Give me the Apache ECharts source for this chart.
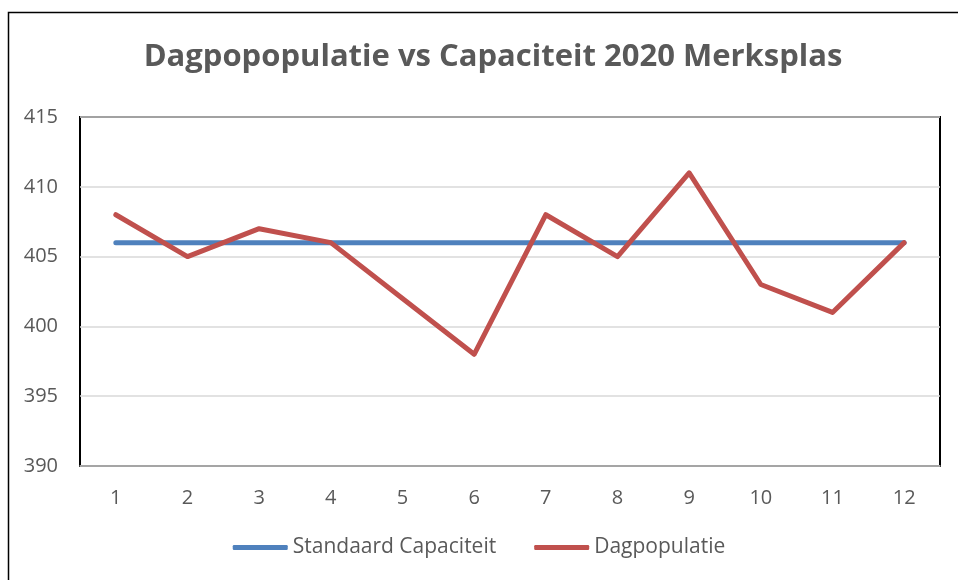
<!DOCTYPE html>
<html><head><meta charset="utf-8">
<script src="https://cdn.jsdelivr.net/npm/echarts@6/dist/echarts.min.js"></script>
<style>html,body{margin:0;padding:0;background:#fff}#c{width:958px;height:580px}</style>
</head><body><div id="c"></div>
<script>
const categories = ['1','2','3','4','5','6','7','8','9','10','11','12'];
const standaardCapaciteit = [406,406,406,406,406,406,406,406,406,406,406,406];
const dagpopulatie = [408,405,407,406,402,398,408,405,411,403,401,406];
const chart = echarts.init(document.getElementById('c'));
const font = 'Open Sans';
chart.setOption({
  animation:false,
  backgroundColor:'#fff',
  title:{text:'Dagpopopulatie vs Capaciteit 2020 Merksplas',left:488,textAlign:'center',top:37,
    textStyle:{fontFamily:font,fontWeight:'bold',fontSize:31,color:'#595959'}},
  graphic:[{type:'rect',shape:{x:8.5,y:12.5,width:1000,height:600},style:{fill:null,stroke:'#000',lineWidth:1.5},silent:true}],
  grid:{left:80,right:18,top:117,bottom:114,show:true,borderColor:'#000',borderWidth:2,backgroundColor:'transparent'},
  legend:{bottom:17,left:'center',itemWidth:55,itemHeight:5,itemGap:38,icon:'roundRect',
    textStyle:{fontFamily:font,fontSize:21,color:'#595959'},
    data:['Standaard Capaciteit','Dagpopulatie']},
  xAxis:{type:'category',data:categories,boundaryGap:true,
    axisLine:{lineStyle:{color:'#a6a6a6',width:1.5}},axisTick:{show:false},
    axisLabel:{fontFamily:font,fontSize:20,color:'#595959',margin:22}},
  yAxis:{type:'value',min:390,max:415,interval:5,
    axisLine:{show:false},axisTick:{show:false},
    splitLine:{lineStyle:{color:'#d9d9d9',width:1.5}},
    axisLabel:{fontFamily:font,fontSize:20,color:'#595959',margin:22}},
  series:[
    {name:'Standaard Capaciteit',type:'line',data:standaardCapaciteit,symbol:'none',
      lineStyle:{color:'#4F81BD',width:5,cap:'round'},itemStyle:{color:'#4F81BD'}},
    {name:'Dagpopulatie',type:'line',data:dagpopulatie,symbol:'none',
      lineStyle:{color:'#C0504D',width:5,cap:'round',join:'round'},itemStyle:{color:'#C0504D'}}
  ]
});
</script></body></html>
